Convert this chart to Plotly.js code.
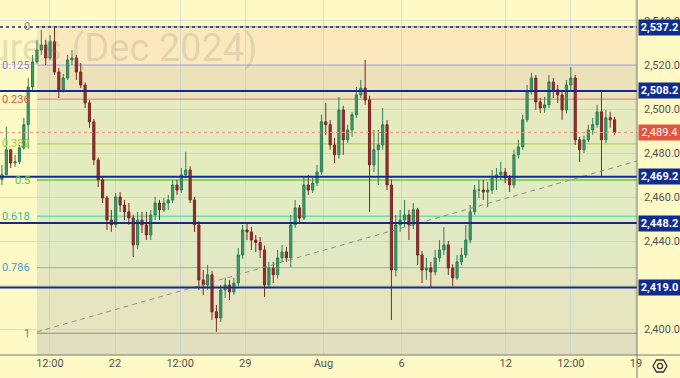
<!DOCTYPE html>
<html><head><meta charset="utf-8">
<script src="https://cdn.plot.ly/plotly-3.0.1.min.js"></script>
<style>html,body{margin:0;padding:0;background:#fff9c6;} #chart{width:680px;height:378px;}</style>
</head><body><div id="chart"></div>
<script>
// ---- candle data (4h bars, trading-day time axis) ----
const barStart = 0.66, barStep = 0.168;
const openV = [2468.0,2470.1,2481.5,2475.5,2476.0,2482.4,2492.9,2510.0,2521.4,2526.8,
2529.1,2523.2,2530.5,2516.8,2508.7,2514.1,2522.3,2523.2,2516.8,2510.9,
2502.8,2494.2,2476.9,2467.8,2459.6,2449.6,2447.4,2460.1,2456.4,2453.3,
2450.5,2438.3,2449.6,2447.4,2442.8,2451.9,2457.3,2454.2,2457.3,2458.7,
2465.5,2463.2,2470.1,2472.3,2458.7,2447.4,2422.4,2420.1,2424.7,2407.9,
2405.1,2417.8,2420.1,2416.9,2421.0,2433.7,2445.1,2444.2,2440.5,2439.4,
2436.0,2420.1,2427.8,2424.7,2432.4,2435.1,2432.4,2447.4,2455.1,2450.5,
2465.5,2463.2,2466.4,2471.4,2494.2,2492.9,2483.7,2479.2,2499.6,2486.0,
2490.5,2497.4,2506.4,2509.5,2504.1,2474.6,2481.5,2483.7,2492.9,2465.5,
2426.9,2447.4,2449.6,2451.9,2447.4,2454.2,2433.7,2426.9,2427.8,2426.0,
2432.4,2436.0,2438.3,2427.8,2423.3,2430.6,2433.7,2440.5,2453.3,2463.2,
2463.2,2462.3,2463.2,2468.7,2470.1,2471.4,2468.7,2465.5,2479.2,2482.8,
2495.1,2507.8,2514.1,2503.2,2500.5,2501.9,2512.3,2508.7,2506.4,2499.6,
2510.9,2514.1,2486.0,2481.5,2486.0,2490.5,2492.9,2498.7,2486.0,2496.0,
2495.1];
const highV = [2474.6,2492.0,2481.5,2479.2,2483.7,2496.0,2514.0,2524.6,2531.4,2535.9,
2531.4,2533.6,2537.3,2518.6,2515.9,2524.6,2526.8,2524.5,2520.9,2512.0,
2504.0,2495.5,2478.0,2469.0,2460.5,2454.2,2461.9,2462.3,2458.7,2457.3,
2452.0,2453.3,2453.3,2453.3,2454.2,2460.1,2458.7,2459.6,2461.0,2467.8,
2467.8,2473.2,2480.6,2474.0,2460.0,2449.0,2426.9,2429.2,2426.5,2411.0,
2420.1,2423.4,2422.4,2423.3,2436.9,2447.4,2448.7,2446.5,2442.8,2441.9,
2438.0,2430.6,2430.6,2436.0,2438.3,2437.4,2451.9,2458.7,2456.4,2469.2,
2470.1,2468.7,2474.6,2497.4,2502.8,2495.0,2486.9,2505.5,2501.5,2492.9,
2498.7,2510.0,2513.2,2522.3,2506.0,2490.5,2490.5,2500.5,2495.0,2468.0,
2451.9,2454.2,2458.7,2454.2,2457.3,2455.1,2435.5,2432.4,2430.6,2436.0,
2440.5,2446.4,2440.0,2429.5,2433.7,2436.9,2447.4,2456.4,2465.5,2467.8,
2467.8,2466.9,2472.3,2473.2,2476.0,2473.2,2470.1,2481.5,2486.0,2497.4,
2510.9,2516.4,2515.5,2505.0,2505.5,2515.5,2514.1,2510.9,2508.0,2513.2,
2519.1,2515.5,2487.4,2487.9,2492.9,2496.0,2501.9,2508.2,2499.6,2498.7,
2496.5];
const lowV = [2465.5,2470.1,2473.2,2473.7,2475.0,2481.5,2482.0,2508.5,2520.5,2524.6,
2520.0,2522.3,2515.5,2505.0,2507.5,2513.2,2520.0,2513.2,2509.5,2500.5,
2491.5,2474.6,2464.6,2457.3,2445.1,2444.2,2446.0,2453.3,2449.6,2447.4,
2432.8,2436.5,2443.7,2440.5,2440.5,2449.6,2449.6,2453.3,2454.2,2457.3,
2461.0,2461.9,2468.5,2457.3,2444.2,2417.8,2415.6,2417.8,2404.2,2398.8,
2403.3,2414.2,2413.3,2415.6,2419.5,2432.0,2440.5,2436.0,2435.1,2432.4,
2414.7,2418.5,2421.0,2423.0,2430.6,2430.6,2428.3,2446.0,2448.7,2449.6,
2461.0,2461.9,2465.0,2470.1,2488.3,2481.5,2475.5,2477.5,2479.2,2484.6,
2487.4,2496.0,2505.0,2502.0,2453.3,2471.4,2465.5,2481.5,2463.2,2404.2,
2424.0,2444.2,2446.4,2440.5,2445.5,2429.2,2421.0,2422.4,2419.2,2424.5,
2430.6,2433.7,2424.7,2419.7,2422.4,2429.2,2432.4,2439.0,2452.0,2459.6,
2458.7,2455.5,2461.5,2463.2,2467.8,2466.4,2462.3,2464.0,2477.5,2481.5,
2494.0,2506.5,2499.6,2498.3,2498.3,2500.5,2505.0,2502.8,2495.1,2498.0,
2508.7,2483.7,2476.0,2480.0,2485.1,2488.3,2491.5,2469.2,2484.5,2491.5,
2488.3];
const closeV = [2470.1,2481.5,2475.5,2476.0,2482.4,2492.9,2510.0,2521.4,2526.8,2529.1,
2523.2,2530.5,2516.8,2508.7,2514.1,2522.3,2523.2,2516.8,2510.9,2502.8,
2494.2,2476.9,2467.8,2459.6,2449.6,2447.4,2460.1,2456.4,2453.3,2450.5,
2438.3,2449.6,2447.4,2442.8,2451.9,2457.3,2454.2,2457.3,2458.7,2465.5,
2463.2,2470.1,2472.3,2458.7,2447.4,2422.4,2420.1,2424.7,2407.9,2405.1,
2417.8,2420.1,2416.9,2421.0,2433.7,2445.1,2444.2,2440.5,2439.4,2436.0,
2420.1,2427.8,2424.7,2432.4,2435.1,2432.4,2447.4,2455.1,2450.5,2465.5,
2463.2,2466.4,2471.4,2494.2,2492.9,2483.7,2479.2,2499.6,2486.0,2490.5,
2497.4,2506.4,2509.5,2504.1,2474.6,2481.5,2483.7,2492.9,2465.5,2426.9,
2447.4,2449.6,2451.9,2447.4,2454.2,2433.7,2426.9,2427.8,2426.0,2432.4,
2436.0,2438.3,2427.8,2423.3,2430.6,2433.7,2440.5,2453.3,2463.2,2463.2,
2462.3,2463.2,2468.7,2470.1,2471.4,2468.7,2465.5,2479.2,2482.8,2495.1,
2507.8,2514.1,2503.2,2500.5,2501.9,2512.3,2508.7,2506.4,2499.6,2510.9,
2514.1,2486.0,2481.5,2486.0,2490.5,2492.9,2498.7,2486.0,2496.0,2495.1,
2489.4];

// ---- axis ticks ----
const xTickVals = [2.5, 5, 7.5, 10, 13, 16, 20, 22.5, 25];
const xTickText = ['12:00', '22', '12:00', '29', 'Aug', '6', '12', '12:00', '19'];
const yTickVals = [2400, 2420, 2440, 2460, 2480, 2500, 2520, 2540];
const yTickText = ['2,400.0', '', '2,440.0', '2,460.0', '2,480.0', '2,500.0', '2,520.0', '2,540.0'];

// ---- Fibonacci retracement ----
const fibStart = 2.005;
const fibHigh = 2537.3, fibLow = 2398.2;
const fibRatios = [0, 0.125, 0.236, 0.382, 0.5, 0.618, 0.786, 1];
const fibLabels = ['0', '0.125', '0.236', '0.382', '0.5', '0.618', '0.786', '1'];
const fibLineColors = ['#8c8c84', '#b7a3d8', '#e07a68', '#a6cf3c', '#6ccc48', '#3ed3a2', '#74bcd6', '#8c8c84'];
const fibTextColors = ['#8c8c84', '#9a7fd0', '#e0553f', '#a0c83c', '#5cc440', '#2fc493', '#44a3d8', '#7c7c74'];
const fibZoneColors = ['rgb(251,233,190)', 'rgb(236,226,186)', 'rgb(229,235,190)', 'rgb(228,236,190)',
  'rgb(226,235,193)', 'rgb(225,233,196)', 'rgb(229,230,192)'];
const belowZoneColor = 'rgb(224,224,192)';

// ---- horizontal key levels ----
const keyLevels = [2537.2, 2508.2, 2469.2, 2448.2, 2419.0];
const keyLabels = ['2,537.2', '2,508.2', '2,469.2', '2,448.2', '2,419.0'];
const keyDash = ['dot', 'solid', 'solid', 'solid', 'solid'];
const lastPrice = 2489.4;
const lastLabel = '2,489.4';

// ---- trend line ----
const trendT = [2.005, 25.04];
const trendV = [2398.8, 2476.4];

const t = openV.map((_, i) => barStart + i * barStep);
const fibVals = fibRatios.map(r => fibHigh - r * (fibHigh - fibLow));

const shapes = [];
for (let i = 0; i < fibVals.length - 1; i++) {
  shapes.push({type: 'rect', layer: 'below', xref: 'x', yref: 'y', x0: fibStart, x1: 30,
    y0: fibVals[i + 1], y1: fibVals[i], fillcolor: fibZoneColors[i], line: {width: 0}});
}
shapes.push({type: 'rect', layer: 'below', xref: 'x', yref: 'y', x0: fibStart, x1: 30,
  y0: 2370, y1: fibLow, fillcolor: belowZoneColor, line: {width: 0}});
fibVals.forEach((v, i) => {
  shapes.push({type: 'line', layer: 'between', xref: 'x', yref: 'y', x0: fibStart, x1: 30, y0: v, y1: v,
    line: {color: fibLineColors[i], width: i === 4 ? 1.5 : 1}});
});
keyLevels.forEach((v, i) => {
  shapes.push({type: 'line', layer: 'above', xref: 'paper', yref: 'y', x0: 0, x1: 1, y0: v, y1: v,
    line: {color: '#102b8a', width: i === 0 ? 1.5 : 2, dash: keyDash[i]}});
});
shapes.push({type: 'line', layer: 'above', xref: 'paper', yref: 'y', x0: 0, x1: 1, y0: lastPrice, y1: lastPrice,
  line: {color: '#ef8d78', width: 1, dash: 'dot'}});
shapes.push({type: 'line', xref: 'paper', yref: 'paper', x0: 1, x1: 1, y0: -0.08, y1: 1,
  line: {color: '#7a7a70', width: 1}});
shapes.push({type: 'line', xref: 'paper', yref: 'paper', x0: 0, x1: 1.07, y0: 0, y1: 0,
  line: {color: '#7a7a70', width: 1}});
const gx = 660 / 637, gy = -11 / 355;
shapes.push({type: 'path', xref: 'paper', yref: 'paper', xsizemode: 'pixel', ysizemode: 'pixel',
  xanchor: gx, yanchor: gy, path: 'M -7 0 L -3.5 6 L 3.5 6 L 7 0 L 3.5 -6 L -3.5 -6 Z',
  line: {color: '#333', width: 1.3}, fillcolor: 'rgba(0,0,0,0)'});
shapes.push({type: 'circle', xref: 'paper', yref: 'paper', xsizemode: 'pixel', ysizemode: 'pixel',
  xanchor: gx, yanchor: gy, x0: -2.6, x1: 2.6, y0: -2.6, y1: 2.6,
  line: {color: '#333', width: 1.3}});

const annotations = [];
annotations.push({xref: 'paper', yref: 'paper', x: 259 / 637, y: 1 - 48 / 355, xanchor: 'right', yanchor: 'middle',
  text: 'Gold Futures (Dec 2024)', showarrow: false,
  font: {family: 'Roboto, sans-serif', size: 38, color: 'rgba(120,118,105,0.20)'}});
fibVals.forEach((v, i) => {
  annotations.push({xref: 'x', yref: 'y', x: fibStart, y: v, xanchor: 'right', yanchor: 'middle',
    xshift: -5, text: fibLabels[i], showarrow: false,
    font: {family: 'Roboto, sans-serif', size: 11, color: fibTextColors[i]}});
});
keyLevels.forEach((v, i) => {
  annotations.push({xref: 'paper', yref: 'y', x: 1, y: v, xanchor: 'left', yanchor: 'middle', xshift: 1,
    text: '<b>' + keyLabels[i] + '</b>', showarrow: false, bgcolor: '#0f2d8e', borderpad: 1, width: 39, height: 13,
    align: 'center', font: {family: 'Roboto, sans-serif', size: 11, color: '#ffffff'}});
});
annotations.push({xref: 'paper', yref: 'y', x: 1, y: lastPrice, xanchor: 'left', yanchor: 'middle', xshift: 1,
  text: lastLabel, showarrow: false, bgcolor: '#e2553f', borderpad: 1, width: 39, height: 13,
  align: 'center', font: {family: 'Roboto, sans-serif', size: 11, color: '#ffffff'}});

const data = [
  {type: 'scatter', mode: 'lines', x: trendT, y: trendV, hoverinfo: 'skip',
    line: {color: 'rgba(130,130,125,0.85)', width: 1, dash: '5px,4px'}},
  {type: 'candlestick', x: t, open: openV, high: highV, low: lowV, close: closeV, whiskerwidth: 0,
    increasing: {line: {color: '#2f7d57', width: 1}, fillcolor: '#3f9a6a'},
    decreasing: {line: {color: '#7d2727', width: 1}, fillcolor: '#922e2e'}, hoverinfo: 'skip'}
];

const layout = {
  width: 680, height: 378,
  margin: {l: 0, r: 43, t: 0, b: 23},
  paper_bgcolor: '#fff9c6', plot_bgcolor: '#fff9c6',
  showlegend: false, hovermode: false, dragmode: false,
  xaxis: {range: [0.585, 25.04], tickvals: xTickVals, ticktext: xTickText, showgrid: true,
    gridcolor: 'rgba(185,200,225,0.55)', zeroline: false, showline: false, ticks: '',
    rangeslider: {visible: false}, fixedrange: true,
    tickfont: {family: 'Roboto, sans-serif', size: 11, color: '#555'}},
  yaxis: {range: [2388.3, 2549.5], side: 'right', tickvals: yTickVals, ticktext: yTickText,
    showgrid: true, gridcolor: 'rgba(185,200,225,0.55)', zeroline: false, showline: false, ticks: '',
    ticklabelstandoff: 6, fixedrange: true,
    tickfont: {family: 'Roboto, sans-serif', size: 11, color: '#555'}},
  shapes: shapes, annotations: annotations
};

Plotly.newPlot('chart', data, layout, {staticPlot: true, displayModeBar: false});
</script></body></html>
